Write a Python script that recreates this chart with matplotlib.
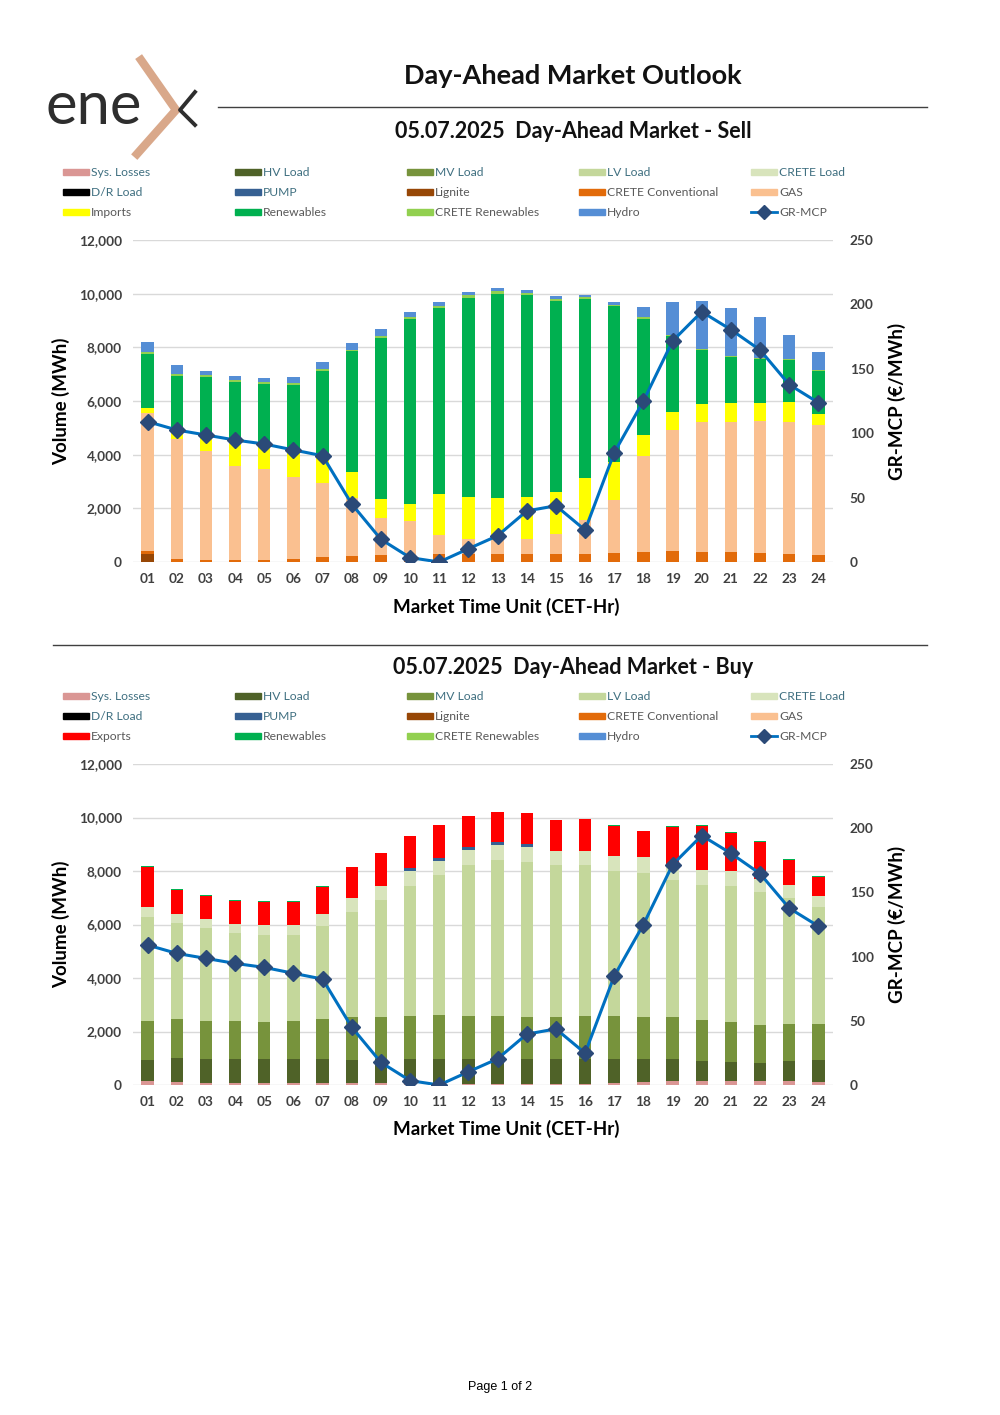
import matplotlib
matplotlib.use("Agg")
import matplotlib.pyplot as plt
from matplotlib.patches import Rectangle
from matplotlib.lines import Line2D
from matplotlib.ticker import FuncFormatter

plt.rcParams["font.family"] = ["Lato", "DejaVu Sans"]

HOURS = [f"{h:02d}" for h in range(1, 25)]

GR_MCP = [109.0, 102.5, 98.6, 94.7, 91.6, 87.0, 82.5, 45.0, 17.6, 3.4, 0.0, 10.3,
          20.4, 39.6, 43.7, 24.8, 84.9, 125.0, 171.6, 194.3, 180.4, 164.6, 137.7, 123.7]

# sell side (MWh)
SELL_LIGNITE = [290, 0, 0, 0, 0, 0, 0, 0, 0, 0, 0, 0, 0, 0, 0, 0, 0, 0, 0, 0, 0, 0, 0, 0]
SELL_CRETE_CONV = [110, 100, 90, 90, 90, 110, 175, 236, 261, 230, 300, 300,
                   300, 300, 300, 300, 336, 373, 398, 386, 386, 348, 300, 250]
SELL_GAS = [5150, 4500, 4064, 3505, 3380, 3062, 2773, 2140, 1369, 1312, 707, 570,
            520, 558, 745, 1267, 1977, 3595, 4527, 4813, 4850, 4901, 4936, 4837]
SELL_IMPORTS = [200, 325, 672, 957, 896, 1008, 982, 970, 708, 610, 1518, 1543,
                1555, 1555, 1567, 1555, 1418, 758, 672, 684, 684, 684, 709, 423]
SELL_RENEWABLES = [1986, 2003, 2077, 2152, 2251, 2412, 3184, 4502, 6020, 6903, 6940, 7438,
                   7625, 7550, 7114, 6667, 5796, 4341, 2836, 2015, 1717, 1629, 1592, 1604]
SELL_CRETE_REN = [87, 87, 75, 86, 75, 62, 75, 62, 75, 74, 87, 99,
                  87, 74, 75, 74, 63, 50, 37, 25, 25, 25, 25, 25]
SELL_HYDRO = [361, 323, 136, 125, 174, 224, 261, 249, 249, 187, 137, 100,
              124, 112, 112, 100, 87, 373, 1219, 1816, 1803, 1530, 896, 672]

# buy side (MWh)
BUY_SYS_LOSSES = [137, 112, 87, 87, 87, 87, 87, 75, 62, 50, 50, 50,
                  50, 50, 50, 50, 87, 112, 137, 150, 150, 137, 137, 124]
BUY_HV_LOAD = [783, 883, 871, 871, 871, 871, 871, 858, 896, 908, 908, 908,
               908, 908, 908, 908, 896, 846, 846, 758, 721, 696, 746, 796]
BUY_MV_LOAD = [1456, 1455, 1442, 1418, 1393, 1442, 1505, 1592, 1592, 1617, 1654, 1629,
               1617, 1592, 1567, 1604, 1579, 1592, 1567, 1517, 1467, 1406, 1381, 1344]
BUY_LV_LOAD = [3918, 3595, 3483, 3308, 3271, 3222, 3495, 3955, 4378, 4875, 5224, 5647,
               5833, 5771, 5684, 5647, 5448, 5373, 5100, 5038, 5112, 4962, 4726, 4378]
BUY_CRETE_LOAD = [360, 348, 336, 336, 348, 361, 423, 498, 522, 535, 547, 547,
                  547, 560, 547, 522, 547, 584, 550, 572, 560, 510, 473, 423]
BUY_PUMP = [0, 0, 0, 0, 0, 0, 0, 0, 0, 124, 87, 100,
            125, 136, 0, 0, 0, 0, 0, 0, 0, 0, 0, 0]
BUY_EXPORTS = [1480, 896, 846, 871, 858, 845, 1032, 1181, 1232, 1207, 1231, 1181,
               1131, 1145, 1144, 1219, 1120, 971, 1452, 1654, 1405, 1356, 933, 709]
BUY_RENEWABLES = [50, 37, 37, 37, 38, 50, 37, 0, 0, 0, 0, 0,
                  0, 0, 0, 0, 30, 30, 37, 37, 38, 50, 49, 37]

COLORS = {
    "Sys. Losses": "#DA9694",
    "HV Load": "#4F6228",
    "MV Load": "#77933C",
    "LV Load": "#C4D79B",
    "CRETE Load": "#D8E4BC",
    "D/R Load": "#000000",
    "PUMP": "#366092",
    "Lignite": "#974706",
    "CRETE Conventional": "#E26B0A",
    "GAS": "#FAC090",
    "Imports": "#FFFF00",
    "Exports": "#FF0000",
    "Renewables": "#00B050",
    "CRETE Renewables": "#92D050",
    "Hydro": "#558ED5",
}
LINE_COLOR = "#0070C0"
MARKER_COLOR = "#2B4A78"
LOAD_TEXT = "#3F6F80"
GEN_TEXT = "#595959"

W, H = 1000, 1415
fig = plt.figure(figsize=(10, 14.15), dpi=100)


def fx(px):
    return px / W


def fy(py):
    return 1 - py / H


def draw_legend(top_py, trade_label):
    rows = [
        ["Sys. Losses", "HV Load", "MV Load", "LV Load", "CRETE Load"],
        ["D/R Load", "PUMP", "Lignite", "CRETE Conventional", "GAS"],
        [trade_label, "Renewables", "CRETE Renewables", "Hydro", "GR-MCP"],
    ]
    loads = {"Sys. Losses", "HV Load", "MV Load", "LV Load", "CRETE Load", "D/R Load", "PUMP"}
    col_x = [63, 235, 407, 579, 751]
    for r, row in enumerate(rows):
        yc = top_py + 20 * r
        for c, name in enumerate(row):
            x0 = col_x[c]
            if name == "GR-MCP":
                fig.add_artist(Line2D([fx(x0), fx(x0 + 26)], [fy(yc), fy(yc)],
                                      color=LINE_COLOR, lw=2, transform=fig.transFigure))
                fig.add_artist(Line2D([fx(x0 + 13)], [fy(yc)], marker="D", ms=7,
                                      color=MARKER_COLOR, transform=fig.transFigure))
            else:
                fig.add_artist(Rectangle((fx(x0), fy(yc + 3)), fx(26), 6 / H,
                                         color=COLORS[name], transform=fig.transFigure))
            fig.text(fx(x0 + 28), fy(yc), name, fontsize=8.7, va="center", ha="left",
                     color=LOAD_TEXT if name in loads else GEN_TEXT)


def draw_panel(ax, layers):
    x = list(range(1, 25))
    bottom = [0] * 24
    for name, values in layers:
        ax.bar(x, values, width=0.42, bottom=bottom, color=COLORS[name], zorder=2)
        bottom = [b + v for b, v in zip(bottom, values)]

    ax.set_xlim(0.5, 24.5)
    ax.set_ylim(0, 12000)
    ax.set_yticks(range(0, 12001, 2000))
    ax.yaxis.set_major_formatter(FuncFormatter(lambda v, p: f"{int(v):,}"))
    ax.set_xticks(x)
    ax.set_xticklabels(HOURS)
    ax.grid(axis="y", color="#D9D9D9", lw=1, zorder=0)
    ax.set_axisbelow(True)
    for s in ax.spines.values():
        s.set_visible(False)
    ax.tick_params(length=0, labelsize=9.8, colors="#404040", pad=8)
    for lab in ax.get_xticklabels() + ax.get_yticklabels():
        lab.set_fontweight("bold")
    ax.set_ylabel("Volume (MWh)", fontsize=13.5, fontweight="bold", labelpad=6)
    ax.set_xlabel("Market Time Unit (CET-Hr)", fontsize=13.5, fontweight="bold", labelpad=8)
    ax.xaxis.set_label_coords((506 - 133) / 700, -0.11)

    ax2 = ax.twinx()
    ax2.plot(x, GR_MCP, color=LINE_COLOR, lw=2.2, marker="D", ms=8,
             mfc=MARKER_COLOR, mec=MARKER_COLOR, zorder=3)
    ax2.set_ylim(0, 250)
    ax2.set_yticks(range(0, 251, 50))
    for s in ax2.spines.values():
        s.set_visible(False)
    ax2.tick_params(length=0, labelsize=9.8, colors="#404040", pad=12)
    for lab in ax2.get_yticklabels():
        lab.set_fontweight("bold")
    ax2.set_ylabel("GR-MCP (€/MWh)", fontsize=13.5, fontweight="bold", labelpad=10)


# header
fig.text(fx(45), fy(124), "ene", fontsize=43, color="#2E2E2E", fontweight="normal",
         ha="left", va="baseline")
fig.add_artist(Line2D([fx(141), fx(176), fx(137)], [fy(60), fy(110), fy(154)],
                      color="#D9A88A", lw=6, solid_joinstyle="miter", transform=fig.transFigure))
fig.add_artist(Line2D([fx(195), fx(180), fx(195)], [fy(92), fy(110), fy(125)],
                      color="#2E2E2E", lw=2.8, transform=fig.transFigure))
fig.text(fx(573), fy(76), "Day-Ahead Market Outlook", fontsize=19.5, fontweight="bold",
         ha="center", va="center", color="#111111")
fig.add_artist(Line2D([fx(218), fx(927)], [fy(107), fy(107)], color="#404040", lw=1,
                      transform=fig.transFigure))

# sell panel
fig.text(fx(573), fy(131), "05.07.2025  Day-Ahead Market - Sell", fontsize=15.5,
         fontweight="bold", ha="center", va="center", color="#111111")
draw_legend(172, "Imports")
ax_sell = fig.add_axes([fx(133), fy(562), 0.70, 322 / H])
draw_panel(ax_sell, [
    ("Lignite", SELL_LIGNITE),
    ("CRETE Conventional", SELL_CRETE_CONV),
    ("GAS", SELL_GAS),
    ("Imports", SELL_IMPORTS),
    ("Renewables", SELL_RENEWABLES),
    ("CRETE Renewables", SELL_CRETE_REN),
    ("Hydro", SELL_HYDRO),
])

fig.add_artist(Line2D([fx(53), fx(927)], [fy(645), fy(645)], color="#404040", lw=1,
                      transform=fig.transFigure))

# buy panel
fig.text(fx(573), fy(668), "05.07.2025  Day-Ahead Market - Buy", fontsize=15.5,
         fontweight="bold", ha="center", va="center", color="#111111")
draw_legend(696, "Exports")
ax_buy = fig.add_axes([fx(133), fy(1085), 0.70, 321 / H])
draw_panel(ax_buy, [
    ("Sys. Losses", BUY_SYS_LOSSES),
    ("HV Load", BUY_HV_LOAD),
    ("MV Load", BUY_MV_LOAD),
    ("LV Load", BUY_LV_LOAD),
    ("CRETE Load", BUY_CRETE_LOAD),
    ("PUMP", BUY_PUMP),
    ("Exports", BUY_EXPORTS),
    ("Renewables", BUY_RENEWABLES),
])

fig.text(0.5, fy(1387), "Page 1 of 2", fontsize=9, ha="center", va="center",
         family="Liberation Sans", color="#000000")

fig.savefig("out.png", dpi=100)
